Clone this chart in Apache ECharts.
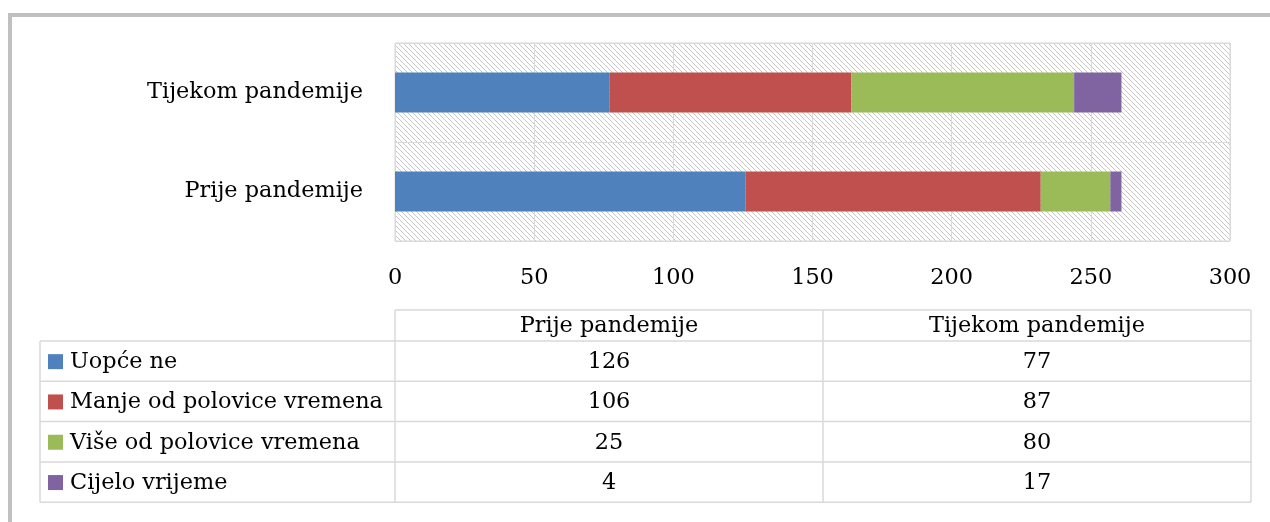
<!DOCTYPE html>
<html><head><meta charset="utf-8">
<script src="https://cdn.jsdelivr.net/npm/echarts@6/dist/echarts.min.js"></script>
<style>html,body{margin:0;padding:0;background:#fff}#c{width:1270px;height:522px}</style>
</head><body><div id="c"></div><script>
// ---- data ----
const categories = ['Prije pandemije', 'Tijekom pandemije'];
const seriesNames = ['Uopće ne', 'Manje od polovice vremena', 'Više od polovice vremena', 'Cijelo vrijeme'];
const uopceNe = [126, 77];
const manjeOdPolovice = [106, 87];
const viseOdPolovice = [25, 80];
const cijeloVrijeme = [4, 17];
const xAxisMin = 0, xAxisMax = 300, xAxisStep = 50;

// ---- styles ----
const seriesValues = [uopceNe, manjeOdPolovice, viseOdPolovice, cijeloVrijeme];
const colors = ['#4f81bd', '#c0504d', '#9bbb59', '#8064a2'];
const FONT = 'DejaVu Serif';
const FS = 22.4;
const TXT = '#000000';
const LINE = '#d9d9d9';

// hatch pattern
const tile = document.createElement('canvas');
tile.width = 5; tile.height = 5;
const tc = tile.getContext('2d');
tc.fillStyle = '#ffffff'; tc.fillRect(0, 0, 5, 5);
tc.fillStyle = '#c6c6c6';
for (let i = 0; i < 5; i++) tc.fillRect(i, i, 1, 1);

const chart = echarts.init(document.getElementById('c'), null, { renderer: 'canvas' });

// table layout
const tblLeft = 40, col1 = 395, col2 = 823, col3 = 1251;
const headTop = 310, headBot = 341, rowH = 40.3;
const g = [];
// outer frame
g.push({ type: 'rect', shape: { x: 10, y: 15, width: 1400, height: 700 }, style: { fill: 'none', stroke: '#c0c0c0', lineWidth: 4 }, z: 0, silent: true });
const ln = (x1, y1, x2, y2) => g.push({ type: 'line', shape: { x1, y1, x2, y2 }, style: { stroke: LINE, lineWidth: 1.5 }, z: 10, silent: true });
const tableBottom = headBot + rowH * seriesNames.length;
ln(col1, headTop, col3, headTop);
ln(tblLeft, headBot, col3, headBot);
[col1, col2, col3].forEach(x => ln(x, headTop, x, tableBottom));
ln(tblLeft, headBot, tblLeft, tableBottom);
const txt = (text, x, y, align) => g.push({ type: 'text', x, y, style: { text, fill: TXT, font: FS + 'px "' + FONT + '"', align, verticalAlign: 'middle' }, z: 11, silent: true });
const colCenters = [(col1 + col2) / 2, (col2 + col3) / 2];
categories.forEach((c, i) => txt(c, colCenters[i], (headTop + headBot) / 2 + 1, 'center'));
seriesNames.forEach((name, r) => {
  const top = headBot + rowH * r, bot = top + rowH, cy = (top + bot) / 2 + 1;
  ln(tblLeft, bot, col3, bot);
  g.push({ type: 'rect', shape: { x: 48, y: cy - 8, width: 15, height: 15 }, style: { fill: colors[r] }, z: 11, silent: true });
  txt(name, 70, cy, 'left');
  seriesValues[r].forEach((v, ci) => txt(String(v), colCenters[ci], cy, 'center'));
});

chart.setOption({
  animation: false,
  backgroundColor: '#ffffff',
  grid: {
    left: 395, right: 40, top: 43, height: 198,
    show: true, backgroundColor: { image: tile, repeat: 'repeat' },
    borderColor: LINE, borderWidth: 1,
    outerBoundsMode: 'none', containLabel: false
  },
  xAxis: {
    type: 'value', min: xAxisMin, max: xAxisMax, interval: xAxisStep,
    axisLine: { show: false }, axisTick: { show: false },
    splitLine: { show: true, lineStyle: { color: LINE, width: 1 } },
    axisLabel: { color: TXT, fontFamily: FONT, fontSize: FS, margin: 26 }
  },
  yAxis: {
    type: 'category', data: categories,
    axisLine: { show: false }, axisTick: { show: false },
    splitLine: { show: true, lineStyle: { color: LINE, width: 1 } },
    axisLabel: { color: TXT, fontFamily: FONT, fontSize: FS, margin: 32 }
  },
  series: seriesNames.map((name, i) => ({
    name, type: 'bar', stack: 'total', data: seriesValues[i],
    barWidth: 40, itemStyle: { color: colors[i] }
  })),
  graphic: g
});
</script></body></html>
